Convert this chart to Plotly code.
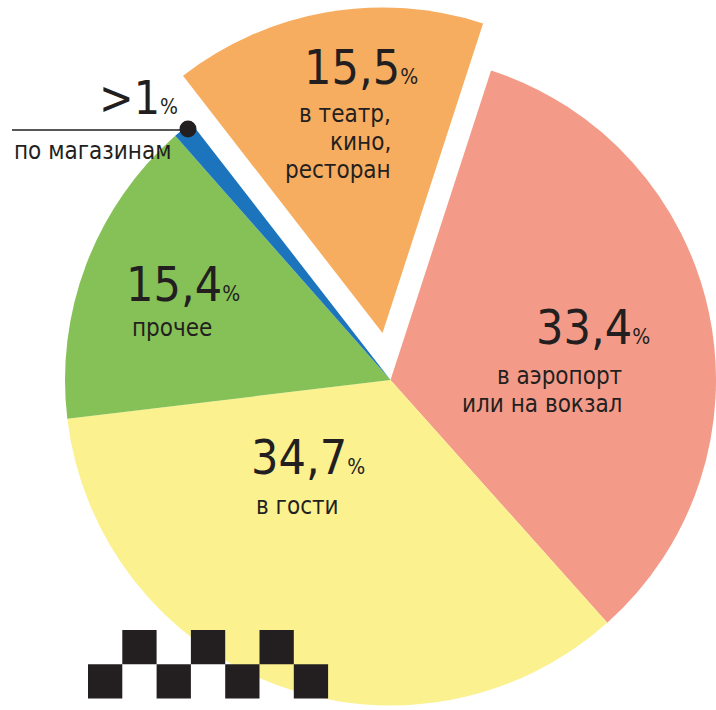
import plotly.graph_objects as go

# ---- data ----
categories = ["в аэропорт\nили на вокзал", "в гости", "прочее", "по магазинам", "в театр,\nкино,\nресторан"]
values = [33.4, 34.7, 15.4, 1.0, 15.5]
value_labels = ["33,4", "34,7", "15,4", ">1", "15,5"]
colors = ["#F39B88", "#FBF18F", "#86C157", "#1C75BC", "#F7AD5F"]
pulled = [False, False, False, False, True]

W, H = 716, 710
INK = "#231f20"
FONT = "DejaVu Sans Condensed, Liberation Sans Narrow, sans-serif"
DESC = 0.236


def px(x):
    return min(1.0, max(0.0, x / W))


def py(y):
    return min(1.0, max(0.0, 1 - y / H))


# pie geometry (pixels): centre, radius, pull offset of the separated slice
cx, cy, r = 392, 380, 327
pull_dx, pull_dy = -8, -47

fig = go.Figure()

main_colors = [("rgba(0,0,0,0)" if p else c) for c, p in zip(colors, pulled)]
xr = [px(cx - r), px(cx + r)]
yr = [py(cy + r), py(cy - r)]
fig.add_trace(go.Pie(
    labels=categories, values=values, sort=False, direction="clockwise", rotation=18,
    marker=dict(colors=main_colors, line=dict(width=0)), textinfo="none",
    hoverinfo="label+value", showlegend=False,
    domain=dict(x=xr, y=yr),
))
pull_colors = [(c if p else "rgba(0,0,0,0)") for c, p in zip(colors, pulled)]
fig.add_trace(go.Pie(
    labels=categories, values=values, sort=False, direction="clockwise", rotation=18,
    marker=dict(colors=pull_colors, line=dict(width=0)), textinfo="none",
    hoverinfo="skip", showlegend=False,
    domain=dict(x=[xr[0] + pull_dx / W, xr[1] + pull_dx / W],
                y=[yr[0] - pull_dy / H, min(1.0, yr[1] - pull_dy / H)]),
))

# label placement (pixels): number left x & baseline & size; text lines anchor
num_pos = [(537, 345, 48), (252, 475, 48), (127, 302, 48), (100, 115, 46), (305, 85, 48)]
lab_pos = [("right", 623, [385, 413]), ("left", 255, [515]), ("left", 131, [337]),
           ("left", 13, [160]), ("right", 392, [123, 151, 179])]
LAB_FS = 24
PCT_FS = 21

ann = []
for i, v in enumerate(value_labels):
    x, base, fs = num_pos[i]
    ann.append(dict(
        x=px(x - 1 - 0.04 * fs), y=py(base + DESC * fs + 1), xref="paper", yref="paper",
        xanchor="left", yanchor="bottom", showarrow=False,
        text=f"{v}<span style='font-size:{PCT_FS}px'>%</span>",
        font=dict(family=FONT, size=fs, color=INK),
    ))
    align, lx, bases = lab_pos[i]
    for line, b in zip(categories[i].split("\n"), bases):
        ann.append(dict(
            x=px(lx + (1 if align == "right" else -1)), y=py(b + DESC * LAB_FS + 1),
            xref="paper", yref="paper", xanchor=align, yanchor="bottom", showarrow=False,
            text=line, font=dict(family=FONT, size=LAB_FS, color=INK),
        ))

shapes = [
    dict(type="line", xref="paper", yref="paper", x0=px(12), x1=px(188), y0=py(130), y1=py(130),
         line=dict(color=INK, width=1.5)),
    dict(type="circle", xref="paper", yref="paper", x0=px(179.5), x1=px(196.5), y0=py(137.5), y1=py(120.5),
         fillcolor=INK, line=dict(width=0)),
]
# taxi checker decoration
s = 34.3
x0c, ytop = 88, 630
for k in range(7):
    row_top = (k % 2 == 1)
    y0 = ytop if row_top else ytop + s
    shapes.append(dict(type="rect", xref="paper", yref="paper",
                       x0=px(x0c + k * s), x1=px(x0c + (k + 1) * s),
                       y0=py(y0 + s), y1=py(y0), fillcolor=INK, line=dict(width=0)))

fig.update_layout(
    width=W, height=H, margin=dict(l=0, r=0, t=0, b=0),
    paper_bgcolor="white", plot_bgcolor="white",
    annotations=ann, shapes=shapes,
)

fig.write_html("out.html", config={"displayModeBar": False},
               post_script="document.body.style.margin='0px';document.body.style.overflow='hidden';")
